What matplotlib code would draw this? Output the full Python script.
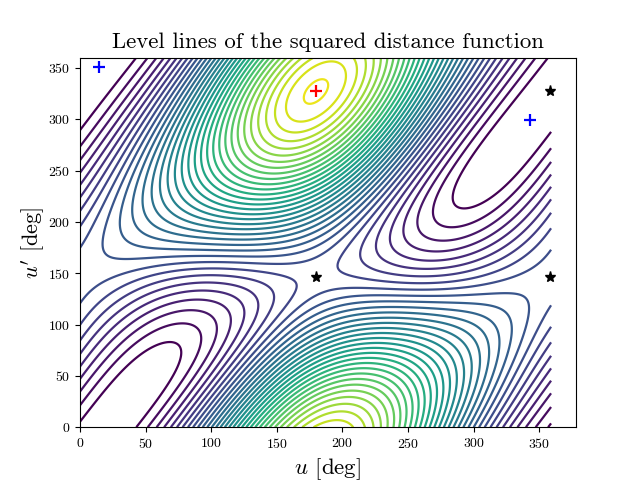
import matplotlib

matplotlib.use("Agg")
import matplotlib.pyplot as plt
import numpy as np

plt.rcParams["font.family"] = ["cmr10", "DejaVu Sans"]
plt.rcParams["mathtext.fontset"] = "cm"
plt.rcParams["axes.formatter.use_mathtext"] = True

# squared distance in units of one level step,
# sampled every 72 deg (rows: u', columns: u)
field = [
    [0.728, 5.585, 25.850, 31.149, 14.098],
    [6.054, 0.764, 11.473, 21.013, 16.138],
    [9.481, 6.857, 7.457, 8.082, 7.808],
    [6.604, 15.774, 19.682, 10.558, 0.951],
    [1.073, 14.866, 30.928, 24.694, 4.716],
]
levels = list(range(1, 35))

minima_u = [14.5, 343]
minima_v = [351, 299.5]
maximum_u = [180]
maximum_v = [327.5]
saddle_u = [180, 358, 358]
saddle_v = [146.5, 146.5, 327.5]


def refine(samples, n=360):
    """Band-limited upsampling of a periodic table to n x n points."""
    spec = np.fft.fftshift(np.fft.fft2(samples))
    m = spec.shape[0]
    pad = (n - m) // 2
    big = np.zeros((n, n), dtype=complex)
    big[pad + 1 : pad + 1 + m, pad + 1 : pad + 1 + m] = spec
    fine = np.fft.ifft2(np.fft.ifftshift(big)).real * (n / m) ** 2
    return fine


z = refine(np.array(field))
z = np.vstack([z, z[0]])  # close the u' range at 360
u = np.arange(360)
v = np.arange(361)

fig, ax = plt.subplots()
ax.contour(u, v, z, levels=levels, cmap="viridis", vmin=1, vmax=35, linewidths=1.6)
ax.plot(minima_u, minima_v, "+", color="blue", ms=8.5, mew=1.6)
ax.plot(maximum_u, maximum_v, "+", color="red", ms=8.5, mew=1.6)
ax.plot(saddle_u, saddle_v, "*", color="black", ms=8)
ax.set_xlim(0, 378)
ax.set_ylim(0, 360)
ax.set_xlabel(r"$u$ [deg]", fontsize=16.5, labelpad=3.5)
ax.set_ylabel(r"$u'$ [deg]", fontsize=16, labelpad=0.5)
ax.set_title("Level lines of the squared distance function", fontsize=16.4, pad=7)
fig.savefig("out.png", dpi=100)
